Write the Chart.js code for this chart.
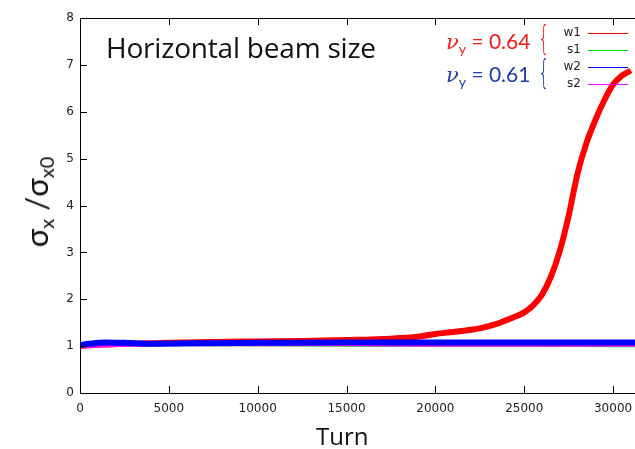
<!DOCTYPE html>
<html>
<head>
<meta charset="utf-8">
<script src="https://cdn.jsdelivr.net/npm/chart.js@4.4.1/dist/chart.umd.min.js"></script>
<style>
  html, body { margin: 0; padding: 0; background: #fff; overflow: hidden; width: 635px; height: 449px; }
  #wrap { position: absolute; left: 0; top: 0; width: 730px; height: 449px; }
  .lbl { position: absolute; white-space: nowrap; line-height: 1; font-family: "Open Sans", sans-serif; }
  #title { left: 106px; top: 33px; font-size: 28px; color: #111; letter-spacing: -0.2px; }
  #turn { left: 316px; top: 424px; font-size: 24px; color: #111; }
  #ylab { left: 38px; top: 202px; font-size: 31px; color: #111; transform: translate(-50%, -50%) rotate(-90deg); font-family: Lato, sans-serif; line-height: 1.2; }
  #ylab sub { font-size: 20px; vertical-align: -6px; }
  .nu { font-size: 21px; font-family: Lato, sans-serif; }
  .nu i { font-family: "DejaVu Serif", serif; font-size: 21px; }
  .nu sub { font-size: 14px; vertical-align: -5px; }
  .brace { font-family: "DejaVu Sans", sans-serif; font-weight: 200; font-size: 33px; transform: scaleX(0.55); transform-origin: left top; }
  #nu1 { left: 446px; top: 30px; color: #f21a1a; }
  #nu2 { left: 446px; top: 63px; color: #1f3fa6; }
  #br1 { left: 538px; top: 22px; color: #f21a1a; }
  #br2 { left: 538px; top: 56px; color: #1f3fa6; }
</style>
</head>
<body>
<div id="wrap"><canvas id="chart" width="730" height="449"></canvas></div>
<div class="lbl" id="title">Horizontal beam size</div>
<div class="lbl" id="turn">Turn</div>
<div class="lbl" id="ylab">σ<sub>x</sub> /σ<sub>x0</sub></div>
<div class="lbl nu" id="nu1"><i>ν</i><sub>y</sub> = 0.64</div>
<div class="lbl nu" id="nu2"><i>ν</i><sub>y</sub> = 0.61</div>
<div class="lbl brace" id="br1">{</div>
<div class="lbl brace" id="br2">{</div>
<script>
// turns and beam size ratio
const w1Turns = [0, 1000, 2500, 5000, 7500, 10000, 12500, 15000, 17500, 19000, 20000, 21000, 22000, 22500, 23500, 24500, 25000, 25500, 26000, 26500, 27000, 27500, 28000, 28500, 29000, 29500, 30000, 30500, 31000];
const w1Vals  = [1.0, 1.03, 1.05, 1.07, 1.09, 1.1, 1.11, 1.13, 1.16, 1.2, 1.26, 1.3, 1.35, 1.38, 1.48, 1.63, 1.72, 1.87, 2.1, 2.48, 3.03, 3.78, 4.68, 5.33, 5.82, 6.24, 6.58, 6.77, 6.88];

const s1Turns = [0, 1000, 2500, 5000, 10000, 15000, 20000, 25000, 30000, 35000];
const s1Vals  = [1.0, 1.02, 1.03, 1.03, 1.03, 1.02, 1.02, 1.02, 1.01, 1.01];

const w2Turns = [0, 500, 1500, 2500, 4000, 6000, 10000, 15000, 20000, 25000, 30000, 35000];
const w2Vals  = [1.02, 1.05, 1.08, 1.07, 1.05, 1.06, 1.07, 1.08, 1.08, 1.08, 1.08, 1.08];

const s2Turns = [0, 1000, 2500, 5000, 10000, 15000, 20000, 25000, 30000, 35000];
const s2Vals  = [0.99, 1.01, 1.03, 1.04, 1.04, 1.04, 1.03, 1.03, 1.03, 1.03];

const lineColors = ['#ff0000', '#00ee00', '#0000ff', '#ff00ff'];
const xTicksStep = 5000;
const yTicksStep = 1;

function pts(xs, ys) { return xs.map((x, i) => ({ x: x, y: ys[i] })); }

// gnuplot-style frame with inward ticks and the line legend
const framePlugin = {
  id: 'frame',
  afterDraw(chart) {
    const ctx = chart.ctx;
    const a = chart.chartArea;
    const xs = chart.scales.x, ys = chart.scales.y;
    ctx.save();
    ctx.strokeStyle = '#000';
    ctx.lineWidth = 1;
    ctx.strokeRect(Math.round(a.left) + 0.5, Math.round(a.top) + 0.5, Math.round(a.right - a.left), Math.round(a.bottom - a.top));
    ctx.beginPath();
    xs.ticks.forEach(t => {
      const px = Math.round(xs.getPixelForValue(t.value)) + 0.5;
      ctx.moveTo(px, a.bottom); ctx.lineTo(px, a.bottom - 7);
      ctx.moveTo(px, a.top); ctx.lineTo(px, a.top + 7);
    });
    ys.ticks.forEach(t => {
      const py = Math.round(ys.getPixelForValue(t.value)) + 0.5;
      ctx.moveTo(a.left, py); ctx.lineTo(a.left + 7, py);
      ctx.moveTo(a.right, py); ctx.lineTo(a.right - 7, py);
    });
    ctx.stroke();

    // legend: label on the left, line sample on the right
    ctx.font = '12px "DejaVu Sans"';
    ctx.textAlign = 'right';
    ctx.textBaseline = 'middle';
    chart.data.datasets.forEach((ds, i) => {
      const y = Math.round(33 + i * 17);
      ctx.fillStyle = '#222';
      ctx.fillText(ds.label, 581, y);
      ctx.fillStyle = lineColors[i];
      ctx.fillRect(588, y, 40, 1);
    });
    ctx.restore();
  }
};

const ctx = document.getElementById('chart').getContext('2d');
new Chart(ctx, {
  type: 'line',
  data: {
    datasets: [
      { label: 'w1', data: pts(w1Turns, w1Vals), borderColor: lineColors[0], borderWidth: 6, order: 4 },
      { label: 's1', data: pts(s1Turns, s1Vals), borderColor: lineColors[1], borderWidth: 3, order: 3 },
      { label: 'w2', data: pts(w2Turns, w2Vals), borderColor: lineColors[2], borderWidth: 6, order: 1 },
      { label: 's2', data: pts(s2Turns, s2Vals), borderColor: lineColors[3], borderWidth: 4, order: 2 }
    ]
  },
  options: {
    responsive: false,
    animation: false,
    devicePixelRatio: 1,
    layout: { padding: { top: 18, right: 12, left: 0, bottom: 0 } },
    elements: {
      point: { radius: 0 },
      line: { cubicInterpolationMode: 'monotone', fill: false, borderCapStyle: 'butt' }
    },
    plugins: { legend: { display: false }, tooltip: { enabled: false } },
    scales: {
      x: {
        type: 'linear', min: 0, max: 35000,
        ticks: { stepSize: xTicksStep, color: '#222', font: { family: 'DejaVu Sans', size: 12 }, padding: 9, maxRotation: 0, callback: v => String(v) },
        grid: { display: false, drawTicks: false },
        border: { display: false },
        afterFit: s => { s.height = 56; }
      },
      y: {
        min: 0, max: 8,
        ticks: { stepSize: yTicksStep, color: '#222', font: { family: 'DejaVu Sans', size: 12 }, padding: 6, callback: v => String(v) },
        grid: { display: false, drawTicks: false },
        border: { display: false },
        afterFit: s => { s.width = 80; }
      }
    }
  },
  plugins: [framePlugin]
});
</script>
</body>
</html>
